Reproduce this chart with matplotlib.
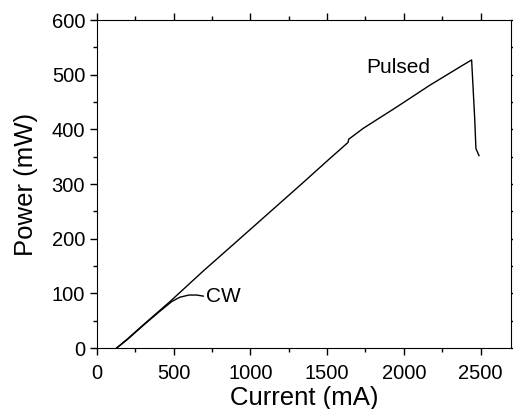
import matplotlib
matplotlib.use("Agg")
import matplotlib.pyplot as plt
from matplotlib.ticker import MultipleLocator

plt.rcParams['font.family'] = ['Liberation Sans', 'DejaVu Sans']

# pulsed L-I curve (current in mA, power in mW)
pulsed_i = [128, 200, 300, 476, 693, 911, 1128, 1345, 1519, 1584, 1636, 1641,
            1736, 1954, 2171, 2388, 2442, 2462, 2470, 2490]
pulsed_p = [0, 17, 42, 85, 141, 195, 249, 303, 347, 363, 376, 382,
            402, 441, 481, 518, 527, 420, 365, 352]

# CW L-I curve
cw_i = [128, 200, 300, 400, 487, 540, 600, 650, 693]
cw_p = [0, 16, 41, 65, 85, 93, 97, 97, 95]

fig = plt.figure(figsize=(5.13, 4.09), dpi=100)
ax = fig.add_axes([0.189, 0.149, 0.8075, 0.802])

ax.plot(pulsed_i, pulsed_p, color='black', lw=1.0)
ax.plot(cw_i, cw_p, color='black', lw=1.0)

ax.text(1967, 513, 'Pulsed', fontsize=15, ha='center', va='center')
ax.text(708, 94, 'CW', fontsize=15, ha='left', va='center')

ax.set_xlim(0, 2700)
ax.set_ylim(0, 600)
ax.xaxis.set_major_locator(MultipleLocator(500))
ax.xaxis.set_minor_locator(MultipleLocator(250))
ax.yaxis.set_major_locator(MultipleLocator(100))
ax.yaxis.set_minor_locator(MultipleLocator(50))
ax.tick_params(which='both', direction='out', top=True, right=True,
               labelsize=14.5, width=1.0)
ax.tick_params(which='major', length=5)
ax.tick_params(which='minor', length=3)
ax.tick_params(axis='x', which='major', pad=6.5)
ax.tick_params(axis='y', which='major', pad=3.5)

ax.set_xlabel('Current (mA)', fontsize=18.5, labelpad=2)
ax.set_ylabel('Power (mW)', fontsize=18.5, labelpad=10)

fig.savefig('out.png', dpi=100)
